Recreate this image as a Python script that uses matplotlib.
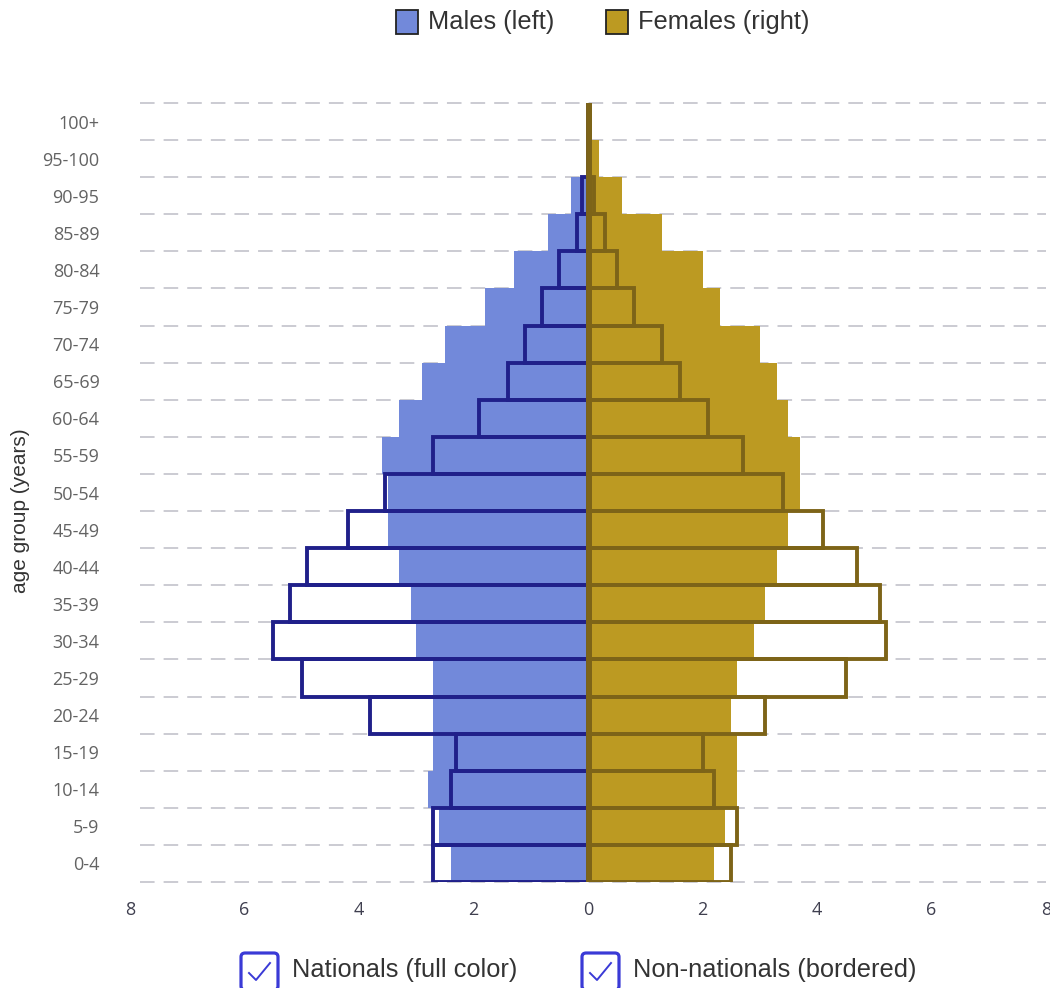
import matplotlib
matplotlib.use("Agg")
import matplotlib.pyplot as plt
from matplotlib.patches import Rectangle, FancyBboxPatch
from matplotlib.lines import Line2D

# ---------------- data ----------------
age_groups = ['0-4', '5-9', '10-14', '15-19', '20-24', '25-29', '30-34', '35-39',
              '40-44', '45-49', '50-54', '55-59', '60-64', '65-69', '70-74',
              '75-79', '80-84', '85-89', '90-95', '95-100', '100+']
male_nationals = [2.4, 2.6, 2.8, 2.7, 2.7, 2.7, 3.0, 3.1, 3.3, 3.5, 3.5, 3.6,
                  3.3, 2.9, 2.5, 1.8, 1.3, 0.7, 0.3, 0.0, 0.0]
male_non_nationals = [2.7, 2.7, 2.4, 2.3, 3.8, 5.0, 5.5, 5.2, 4.9, 4.2, 3.55, 2.7,
                      1.9, 1.4, 1.1, 0.8, 0.5, 0.2, 0.1, 0.0, 0.0]
female_nationals = [2.2, 2.4, 2.6, 2.6, 2.5, 2.6, 2.9, 3.1, 3.3, 3.5, 3.7, 3.7,
                    3.5, 3.3, 3.0, 2.3, 2.0, 1.3, 0.6, 0.2, 0.0]
female_non_nationals = [2.5, 2.6, 2.2, 2.0, 3.1, 4.5, 5.2, 5.1, 4.7, 4.1, 3.4, 2.7,
                        2.1, 1.6, 1.3, 0.8, 0.5, 0.3, 0.1, 0.0, 0.0]
x_ticks = [-8, -6, -4, -2, 0, 2, 4, 6, 8]
x_tick_labels = ['8', '6', '4', '2', '0', '2', '4', '6', '8']

# ---------------- style ----------------
MALE_FILL = '#7289DA'
MALE_EDGE = '#20208A'
FEMALE_FILL = '#BC9A22'
FEMALE_EDGE = '#7D6418'
GRID = '#C0C0C8'
CHECK = '#3A3AD6'

plt.rcParams['lines.scale_dashes'] = False

W, H = 1050, 988
fig = plt.figure(figsize=(W / 100, H / 100), dpi=100)


def px(x, y):
    return (x / W, 1 - y / H)


ax = fig.add_axes([130 / W, 1 - 882 / H, 916 / W, 779 / H])
ax.set_xlim(-8, 8)
ax.set_ylim(-0.5, len(age_groups) - 0.5)
for s in ax.spines.values():
    s.set_visible(False)

# dashed grid lines at band boundaries
for k in range(len(age_groups) + 1):
    ax.plot([-7.825, 8], [k - 0.5, k - 0.5], color=GRID, lw=1.15,
            dashes=(10.5, 6.5), zorder=0, solid_capstyle='butt',
            dash_capstyle='butt', clip_on=False)

y = list(range(len(age_groups)))
# nationals (filled)
ax.barh(y, [-v for v in male_nationals], height=1.0, color=MALE_FILL,
        linewidth=0, zorder=2)
ax.barh(y, female_nationals, height=1.0, color=FEMALE_FILL,
        linewidth=0, zorder=2)
# non-nationals (bordered)
ax.barh(y, [-v for v in male_non_nationals], height=1.0, facecolor='none',
        edgecolor=MALE_EDGE, linewidth=2.8, zorder=3)
ax.barh(y, female_non_nationals, height=1.0, facecolor='none',
        edgecolor=FEMALE_EDGE, linewidth=2.8, zorder=4)
# central axis line (drawn by the zero-width female borders in the original)
ax.axvline(0.02, ymin=0, ymax=1, color=FEMALE_EDGE, lw=3.6, zorder=5)

ax.set_yticks(y)
ax.set_yticklabels(age_groups, family=['Open Sans', 'DejaVu Sans'],
                   fontsize=13, color='#636363')
ax.set_xticks(x_ticks)
ax.set_xticklabels(x_tick_labels, family=['Open Sans', 'DejaVu Sans'],
                   fontsize=13, color='#3F3F4F')
ax.tick_params(axis='y', length=0, pad=22)
ax.tick_params(axis='x', length=0, pad=14)

# y axis label
fig.text(*px(20, 511), 'age group (years)', rotation=90, ha='center',
         va='center', fontsize=15, color='#333333',
         family=['Liberation Sans', 'DejaVu Sans'])

# top legend
leg_items = [(396, 'Males (left)', MALE_FILL), (606, 'Females (right)', FEMALE_FILL)]
for x0, label, col in leg_items:
    fig.patches.append(Rectangle(px(x0, 34), 22 / W, 24 / H, facecolor=col,
                                 edgecolor='#222222', linewidth=1.3,
                                 transform=fig.transFigure, figure=fig))
    fig.text(*px(x0 + 32, 22), label, ha='left', va='center', fontsize=18.3,
             color='#333333', family=['Liberation Sans', 'DejaVu Sans'])

# bottom legend (checkboxes)
chk_items = [(241, 'Nationals (full color)'), (582, 'Non-nationals (bordered)')]
for x0, label in chk_items:
    fig.patches.append(FancyBboxPatch(px(x0, 990), 37 / W, 37 / H,
                                      boxstyle='round,pad=0,rounding_size=0.004',
                                      facecolor='white', edgecolor=CHECK,
                                      linewidth=2.3, transform=fig.transFigure,
                                      figure=fig))
    cx = [x0 + 8, x0 + 15, x0 + 29]
    cy = [973, 980, 963]
    pts = [px(a, b) for a, b in zip(cx, cy)]
    fig.lines.append(Line2D([p[0] for p in pts], [p[1] for p in pts],
                            color=CHECK, linewidth=1.4,
                            transform=fig.transFigure, figure=fig))
    fig.text(*px(x0 + 51, 970), label, ha='left', va='center', fontsize=18.3,
             color='#333333', family=['Liberation Sans', 'DejaVu Sans'])

fig.savefig('out.png', dpi=100)
